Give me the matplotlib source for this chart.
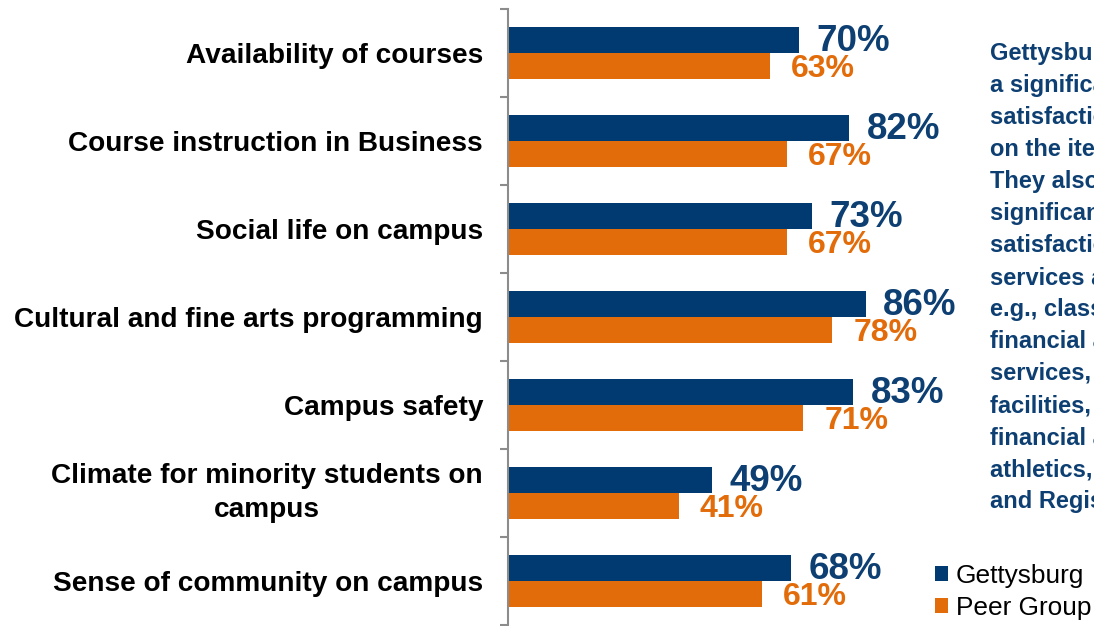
import matplotlib
matplotlib.use("Agg")
import matplotlib.pyplot as plt
import numpy as np

# data
categories = [
    "Availability of courses",
    "Course instruction in Business",
    "Social life on campus",
    "Cultural and fine arts programming",
    "Campus safety",
    "Climate for minority students on\ncampus",
    "Sense of community on campus",
]
gettysburg = [70, 82, 73, 86, 83, 49, 68]
peer_group = [63, 67, 67, 78, 71, 41, 61]
series_names = ["Gettysburg", "Peer Group"]

note_lines = [
    "Gettysburg seniors reported",
    "a significantly higher",
    "satisfaction than peers",
    "on the items shown.",
    "They also reported",
    "significantly higher",
    "satisfaction with",
    "services and facilities,",
    "e.g., class size,",
    "financial aid",
    "services, library",
    "facilities, and",
    "financial aid office,",
    "athletics, Bookstore",
    "and Registrar.",
]

BLUE = "#003A70"
ORANGE = "#E36C0A"
BLUE_TXT = "#0D3F72"

plt.rcParams["font.family"] = ["Liberation Sans", "DejaVu Sans"]

fig = plt.figure(figsize=(10.94, 6.26), dpi=100)
ax = fig.add_axes([508 / 1094, 1 / 626, 416 / 1094, 616 / 626])

y = np.arange(len(categories))
h = 0.29
b1 = ax.barh(y - h / 2, gettysburg, height=h, color=BLUE, label=series_names[0])
b2 = ax.barh(y + h / 2, peer_group, height=h, color=ORANGE, label=series_names[1])

for yi, v in zip(y, gettysburg):
    ax.annotate(f"{v}%", (v, yi - h / 2), xytext=(12.5, -1), textcoords="offset points",
                ha="left", va="center", fontsize=26.5, color=BLUE_TXT, fontweight="bold")
for yi, v in zip(y, peer_group):
    ax.annotate(f"{v}%", (v, yi + h / 2), xytext=(15, -2), textcoords="offset points",
                ha="left", va="center", fontsize=23, color=ORANGE, fontweight="bold")

ax.set_xlim(0, 100)
ax.set_ylim(len(categories) - 0.5, -0.5)

# boundary ticks + category labels
ax.set_yticks(np.arange(len(categories) + 1) - 0.5)
ax.set_yticklabels([])
ax.tick_params(axis="y", which="major", length=6, width=1.5, color="#8c8c8c", direction="out")
ax.set_yticks(y, minor=True)
ax.set_yticklabels(categories, minor=True, fontsize=20.2, fontweight="bold",
                   multialignment="center", linespacing=1.4)
for lab in ax.get_yticklabels(minor=True):
    if "\n" in lab.get_text():
        lab.set_verticalalignment("center")
ax.tick_params(axis="y", which="minor", length=0, pad=18)
ax.set_xticks([])

for s in ["top", "right", "bottom"]:
    ax.spines[s].set_visible(False)
ax.spines["left"].set_color("#8c8c8c")
ax.spines["left"].set_linewidth(1.5)

# note on the right (runs off the slide)
fig.text(990 / 1094, 1 - 42 / 626, "\n".join(note_lines), ha="left", va="top",
         fontsize=17, fontweight="bold", color=BLUE_TXT, linespacing=1.5)

ax.legend(handles=[b1, b2], loc="upper left", bbox_to_anchor=(935 / 1094, 1 - 564 / 626),
          bbox_transform=fig.transFigure, frameon=False, fontsize=18.9,
          handlelength=0.5, handleheight=0.5, handletextpad=0.3,
          labelspacing=0.3, borderaxespad=0, borderpad=0)

fig.savefig("out.png", dpi=100)
